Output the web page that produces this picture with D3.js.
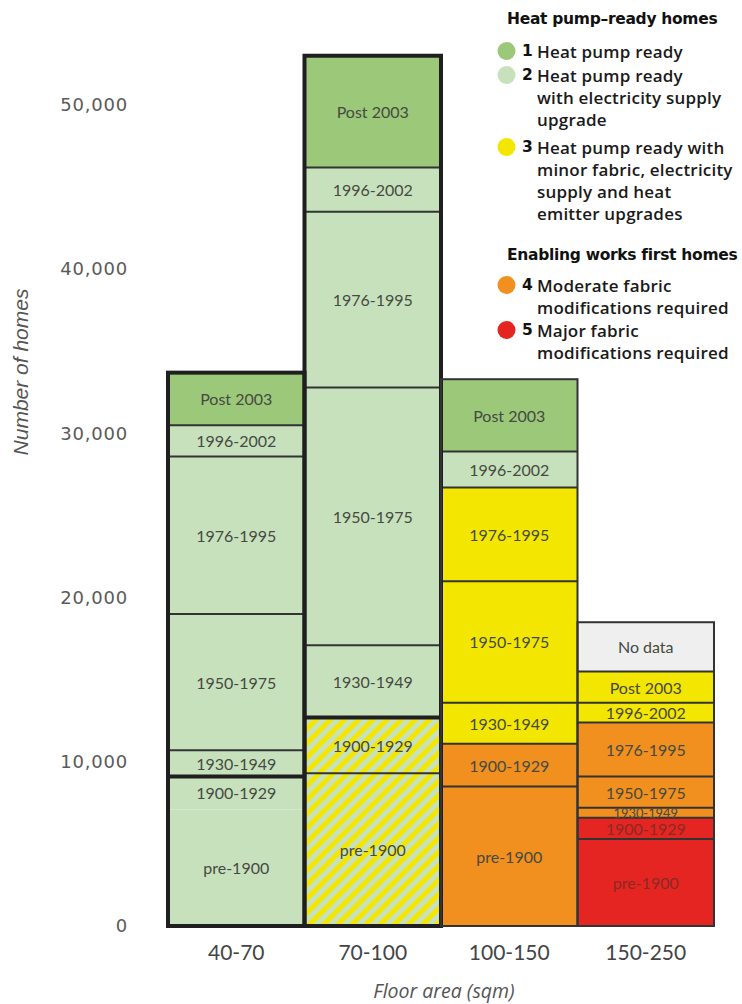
<!DOCTYPE html>
<html>
<head>
<meta charset="utf-8">
<script src="https://cdn.jsdelivr.net/npm/d3@7"></script>
<style>
  body { margin: 0; background: #fff; }
  svg { display: block; }
</style>
</head>
<body>
<svg id="chart" width="742" height="1004"></svg>
<script>
// categories and values
const floorAreas = ['40-70', '70-100', '100-150', '150-250'];
const ageBands = ['pre-1900', '1900-1929', '1930-1949', '1950-1975', '1976-1995', '1996-2002', 'Post 2003', 'No data'];

// number of homes per age band (same order as ageBands)
const homes40to70   = [7100, 2000, 1600, 8300, 9600, 1900, 3200, 0];
const homes70to100  = [9300, 3400, 4400, 15700, 10700, 2700, 6800, 0];
const homes100to150 = [8500, 2600, 2500, 7400, 5700, 2200, 4400, 0];
const homes150to250 = [5300, 1300, 600, 1900, 3300, 1200, 1900, 3000];

// readiness category of each cell: 1..5, 'h' = hatched 2/3, 0 = no data
const cat40to70   = [2, 2, 2, 2, 2, 2, 1, 0];
const cat70to100  = ['h', 'h', 2, 2, 2, 2, 1, 0];
const cat100to150 = [4, 4, 3, 3, 3, 2, 1, 0];
const cat150to250 = [5, 5, 4, 4, 4, 3, 3, 0];

const yTicks = [0, 10000, 20000, 30000, 40000, 50000];

const legendTitles = ['Heat pump\u2013ready homes', 'Enabling works first homes'];
const legendNumbers = ['1', '2', '3', '4', '5'];
const legendLines = [
  ['Heat pump ready'],
  ['Heat pump ready', 'with electricity supply', 'upgrade'],
  ['Heat pump ready with', 'minor fabric, electricity', 'supply and heat', 'emitter upgrades'],
  ['Moderate fabric', 'modifications required'],
  ['Major fabric', 'modifications required']
];

const homesByArea = [homes40to70, homes70to100, homes100to150, homes150to250];
const catsByArea = [cat40to70, cat70to100, cat100to150, cat150to250];

const colors = {
  1: '#9cc87a',
  2: '#c8e1bd',
  3: '#f3e600',
  4: '#f1901f',
  5: '#e42521',
  0: '#efefef',
  h: 'url(#hatch)'
};

const svg = d3.select('#chart');

// hatch for the "2 or 3" cells
const defs = svg.append('defs');
const pat = defs.append('pattern')
  .attr('id', 'hatch')
  .attr('patternUnits', 'userSpaceOnUse')
  .attr('width', 10)
  .attr('height', 10)
  .attr('patternTransform', 'rotate(45)');
pat.append('rect').attr('width', 10).attr('height', 10).attr('fill', colors[2]);
pat.append('rect').attr('width', 5).attr('height', 10).attr('fill', colors[3]);

const table = floorAreas.map((area, i) => {
  const row = { area };
  ageBands.forEach((b, j) => { row[b] = homesByArea[i][j]; });
  return row;
});
const series = d3.stack().keys(ageBands)(table);

const x = d3.scaleBand().domain(floorAreas).range([168, 714]).padding(0);
const y = d3.scaleLinear().domain([0, 50000]).range([926, 105]);

// segments
const cells = [];
series.forEach((s, j) => {
  s.forEach((d, i) => {
    if (d[1] - d[0] <= 0) return;
    cells.push({ area: floorAreas[i], col: i, band: ageBands[j], bandIdx: j, y0: d[0], y1: d[1], cat: catsByArea[i][j] });
  });
});

const bars = svg.append('g');
bars.selectAll('rect')
  .data(cells)
  .join('rect')
  .attr('x', d => x(d.area))
  .attr('width', x.bandwidth())
  .attr('y', d => y(d.y1))
  .attr('height', d => y(d.y0) - y(d.y1))
  .attr('fill', d => colors[d.cat]);

// thin borders between age bands (col 1 has no line between pre-1900 and 1900-1929)
const lines = cells.filter(d => d.bandIdx > 0 && !(d.col === 0 && d.band === '1900-1929'));
bars.selectAll('line.sep')
  .data(lines)
  .join('line')
  .attr('class', 'sep')
  .attr('x1', d => x(d.area))
  .attr('x2', d => x(d.area) + x.bandwidth())
  .attr('y1', d => y(d.y0))
  .attr('y2', d => y(d.y0))
  .attr('stroke', '#333')
  .attr('stroke-width', 2);

// labels (squeezed a little in very thin cells)
svg.append('g')
  .selectAll('text')
  .data(cells)
  .join('text')
  .attr('x', d => x(d.area) + x.bandwidth() / 2)
  .attr('y', d => (y(d.y0) + y(d.y1)) / 2)
  .attr('text-anchor', 'middle')
  .attr('dominant-baseline', 'central')
  .attr('font-family', 'Lato, sans-serif')
  .attr('font-size', d => Math.min(16, y(d.y0) - y(d.y1) + 3))
  .attr('fill', d => d.cat === 5 ? '#8a2a24' : '#454a42')
  .text(d => d.band);

// column outlines: heavy for the first two, light for the others
const totals = series[series.length - 1].map(d => d[1]);
const outline = svg.append('g');
floorAreas.forEach((area, i) => {
  const heavy = i < 2;
  outline.append('rect')
    .attr('x', x(area))
    .attr('y', y(totals[i]))
    .attr('width', x.bandwidth())
    .attr('height', y(0) - y(totals[i]))
    .attr('fill', 'none')
    .attr('stroke', heavy ? '#1f1f1f' : '#333')
    .attr('stroke-width', heavy ? 4 : 2);
  if (heavy) {
    const pre1930 = series[1][i][1];
    outline.append('line')
      .attr('x1', x(area))
      .attr('x2', x(area) + x.bandwidth())
      .attr('y1', y(pre1930))
      .attr('y2', y(pre1930))
      .attr('stroke', '#1f1f1f')
      .attr('stroke-width', 4);
  }
});

// y axis
const yAxis = svg.append('g')
  .attr('transform', 'translate(128,0)')
  .call(d3.axisLeft(y).tickValues(yTicks).tickSize(0).tickPadding(0).tickFormat(d3.format(',')));
yAxis.select('.domain').remove();
yAxis.selectAll('text')
  .attr('font-family', 'DejaVu Sans, sans-serif')
  .attr('font-size', 18)
  .attr('letter-spacing', 0.8)
  .attr('fill', '#5a5a5a');

// x axis
const xAxis = svg.append('g')
  .attr('transform', 'translate(0,945)')
  .call(d3.axisBottom(x).tickSize(0).tickPadding(0));
xAxis.select('.domain').remove();
xAxis.selectAll('text')
  .attr('font-family', 'Lato, sans-serif')
  .attr('font-size', 21)
  .attr('fill', '#444');

svg.append('text')
  .attr('x', 444)
  .attr('y', 990)
  .attr('text-anchor', 'middle')
  .attr('dominant-baseline', 'central')
  .attr('font-family', 'Open Sans, sans-serif')
  .attr('font-style', 'italic')
  .attr('font-size', 19.5)
  .attr('fill', '#555')
  .text('Floor area (sqm)');

svg.append('text')
  .attr('transform', 'translate(20,372) rotate(-90)')
  .attr('text-anchor', 'middle')
  .attr('dominant-baseline', 'central')
  .attr('font-family', 'Liberation Sans Narrow, sans-serif')
  .attr('font-style', 'italic')
  .attr('font-size', 21)
  .attr('fill', '#555')
  .text('Number of homes');

// legend
const legend = svg.append('g');
const titleY = [19, 255];
const itemY = [51, 75, 147, 285, 330];
const lineGap = 22;
const legendCats = [1, 2, 3, 4, 5];

legendTitles.forEach((t, i) => {
  legend.append('text')
    .attr('x', 507)
    .attr('y', titleY[i])
    .attr('dominant-baseline', 'central')
    .attr('font-family', 'DejaVu Sans, sans-serif')
    .attr('font-weight', 'bold')
    .attr('font-size', 15.5)
    .attr('letter-spacing', -0.3)
    .attr('fill', '#111')
    .text(t);
});

legendLines.forEach((ls, i) => {
  legend.append('circle')
    .attr('cx', 506.5)
    .attr('cy', itemY[i])
    .attr('r', 9)
    .attr('fill', colors[legendCats[i]]);
  legend.append('text')
    .attr('x', 522)
    .attr('y', itemY[i])
    .attr('dominant-baseline', 'central')
    .attr('font-family', 'DejaVu Sans, sans-serif')
    .attr('font-weight', 'bold')
    .attr('font-size', 15.5)
    .attr('fill', '#111')
    .text(legendNumbers[i]);
  ls.forEach((line, k) => {
    legend.append('text')
      .attr('x', 537)
      .attr('y', itemY[i] + k * lineGap)
      .attr('dominant-baseline', 'central')
      .attr('font-family', 'Open Sans, sans-serif')
      .attr('font-weight', 600)
      .attr('font-size', 17)
      .attr('letter-spacing', 0.2)
      .attr('fill', '#1a1a1a')
      .text(line);
  });
});
</script>
</body>
</html>
